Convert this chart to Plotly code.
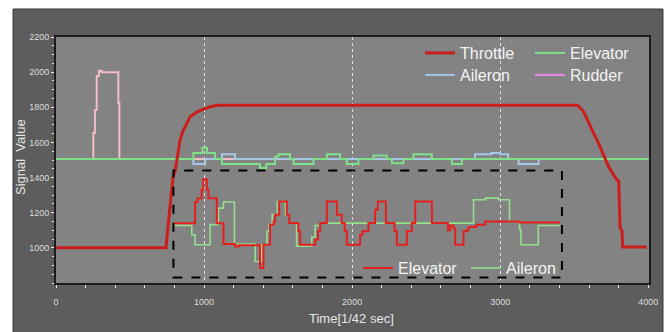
import plotly.graph_objects as go

# ---------------- data (time in 1/42 s, signal values) ----------------
throttle_t = [0, 743, 760, 775, 790, 805, 817, 830, 838, 855, 872, 890, 905, 930, 953, 985,
              1020, 1050, 1088, 3523, 3563, 3597, 3631, 3664, 3698, 3732, 3757, 3764, 3790,
              3800, 3810, 3822, 3828, 3990]
throttle_v = [1000, 1000, 1150, 1270, 1400, 1440, 1500, 1570, 1614, 1660, 1690, 1720, 1745,
              1760, 1774, 1785, 1796, 1805, 1812, 1812, 1776, 1719, 1653, 1596, 1530, 1463,
              1427, 1416, 1387, 1380, 1113, 1100, 1005, 1005]

elevator_t = [0, 928, 990, 1020, 1074, 1120, 1378, 1420, 1480, 1502, 1581, 1604, 1739, 1829,
              1919, 1964, 2043, 2144, 2234, 2268, 2347, 2414, 2538, 2673, 2741, 4000]
elevator_v = [1505, 1540, 1570, 1540, 1505, 1477, 1454, 1477, 1520, 1533, 1505, 1477, 1505,
              1533, 1505, 1477, 1505, 1526, 1505, 1482, 1505, 1533, 1505, 1477, 1505, 1505]

aileron_t = [0, 928, 1007, 1120, 1209, 2830, 2940, 3000, 3054, 3124, 3259, 4000]
aileron_v = [1505, 1477, 1505, 1533, 1505, 1533, 1540, 1533, 1505, 1477, 1505, 1505]

rudder_t = [0, 252, 263, 275, 290, 309, 421, 428, 4000]
rudder_v = [1505, 1654, 1785, 1978, 2008, 2000, 1825, 1505, 1505]

# inset (zoomed elevator / aileron), drawn in main axis units
inset_elev_t = [793, 939, 957, 984, 995, 1018, 1029, 1086, 1131, 1210, 1235, 1378, 1401, 1446,
                1470, 1480, 1507, 1559, 1575, 1637, 1649, 1750, 1770, 1784, 1829, 1897, 1930,
                1950, 1964, 2054, 2070, 2110, 2155, 2174, 2228, 2286, 2302, 2370, 2403, 2426,
                2539, 2647, 2662, 2685, 2696, 2752, 2775, 2786, 2831, 2842, 2899, 3130, 3405]
inset_elev_v = [1140, 1261, 1283, 1331, 1390, 1331, 1283, 1140, 1022, 1008, 1015, 886, 1018,
                1132, 1150, 1189, 1264, 1189, 1141, 1094, 1018, 1047, 1094, 1141, 1264, 1189,
                1141, 1094, 1018, 1075, 1094, 1141, 1217, 1264, 1141, 1094, 1018, 1094, 1141,
                1264, 1141, 1100, 1127, 1110, 1018, 1094, 1100, 1118, 1122, 1132, 1150, 1145,
                1145]

inset_ail_t = [793, 917, 939, 1041, 1097, 1131, 1205, 1345, 1390, 1425, 1440, 1460, 1495, 1550,
               1575, 1625, 1727, 1750, 1784, 2820, 2900, 2990, 3063, 3131, 3140, 3257, 3405]
inset_ail_v = [1128, 1075, 1018, 1132, 1226, 1261, 1022, 922, 1018, 1094, 1132, 1189, 1264,
               1189, 1141, 1010, 1060, 1127, 1141, 1274, 1283, 1274, 1150, 1104, 1018, 1127,
               1127]

inset_box_x = [793, 3417]
inset_box_y = [832, 1440]

x_ticks = [0, 1000, 2000, 3000, 4000]
y_ticks = [1000, 1200, 1400, 1600, 1800, 2000, 2200]

# ---------------- layout helpers ----------------
W, H = 669, 332
L, R, T, B = 56, 649, 37, 283
PW, PH = R - L, B - T


def px(x):
    return (x - L) / PW


def py(y):
    return (B - y) / PH


FONT = "Arial, Liberation Sans, sans-serif"

fig = go.Figure()

fig.add_trace(go.Scatter(x=rudder_t, y=rudder_v, mode="lines", line_shape="hv",
                         line=dict(color="#f4bcc6", width=2), showlegend=False, name="Rudder"))
fig.add_trace(go.Scatter(x=aileron_t, y=aileron_v, mode="lines", line_shape="hv",
                         line=dict(color="#a6c8e6", width=2), name="Aileron", legend="legend2",
                         legendrank=1))
fig.add_trace(go.Scatter(x=elevator_t, y=elevator_v, mode="lines", line_shape="hv",
                         line=dict(color="#7fe08a", width=2), name="Elevator", legend="legend",
                         legendrank=2))
fig.add_trace(go.Scatter(x=throttle_t, y=throttle_v, mode="lines",
                         line=dict(color="#cc1d1d", width=3), name="Throttle", legend="legend",
                         legendrank=1))
# legend swatch for rudder
fig.add_trace(go.Scatter(x=[None], y=[None], mode="lines",
                         line=dict(color="#e88ae6", width=2), name="Rudder", legend="legend2",
                         legendrank=2))

fig.add_trace(go.Scatter(x=inset_ail_t, y=inset_ail_v, mode="lines", line_shape="hv",
                         line=dict(color="#94e08f", width=1.6), name="Aileron", legend="legend3",
                         legendrank=2))
fig.add_trace(go.Scatter(x=inset_elev_t, y=inset_elev_v, mode="lines", line_shape="hv",
                         line=dict(color="#e4201e", width=2), name="Elevator", legend="legend3",
                         legendrank=1))

shapes = [
    # dark panel
    dict(type="rect", xref="paper", yref="paper", layer="below",
         x0=px(13), x1=px(663), y0=py(345), y1=py(9),
         fillcolor="#5d5d5d", line=dict(color="#3a3a3a", width=1)),
    # plot area
    dict(type="rect", xref="paper", yref="paper", layer="below",
         x0=0, x1=1, y0=0, y1=1, fillcolor="#838383", line=dict(width=0)),
    # inset dashed box
    dict(type="rect", xref="x", yref="y", layer="above",
         x0=inset_box_x[0], x1=inset_box_x[1], y0=inset_box_y[0], y1=inset_box_y[1],
         fillcolor="rgba(0,0,0,0)", line=dict(color="#000000", width=2, dash="dash")),
]

leg_common = dict(orientation="h", xanchor="left", yanchor="middle",
                  bgcolor="rgba(0,0,0,0)", borderwidth=0,
                  font=dict(family=FONT, size=16, color="#f4f4f4"),
                  itemwidth=30, traceorder="normal")

fig.update_layout(
    width=W, height=H,
    margin=dict(l=L, r=W - R, t=T, b=H - B),
    paper_bgcolor="white",
    plot_bgcolor="rgba(0,0,0,0)",
    shapes=shapes,
    legend=dict(x=px(420), y=py(53), entrywidth=65, **leg_common),
    legend2=dict(x=px(420), y=py(75), entrywidth=65, **leg_common),
    legend3=dict(x=px(358), y=py(268), entrywidth=63, **leg_common),
    xaxis=dict(range=[0, 4005], tickvals=x_ticks, ticktext=[str(v) for v in x_ticks],
               showline=True, linecolor="#1c1c1c", linewidth=2, mirror=True,
               ticks="outside", ticklen=3, tickcolor="#e8e8e8", tickwidth=1,
               minor=dict(dtick=200, tick0=0, ticks="outside", ticklen=3,
                          tickcolor="#e8e8e8", showgrid=False),
               showgrid=True, gridcolor="rgba(255,255,255,0.75)", griddash="dot",
               gridwidth=1, zeroline=False, ticklabelstandoff=6,
               tickfont=dict(family=FONT, size=9, color="#dcdcdc")),
    yaxis=dict(range=[800, 2200], tickvals=y_ticks, ticktext=[str(v) for v in y_ticks],
               showline=True, linecolor="#1c1c1c", linewidth=2, mirror=True,
               ticks="outside", ticklen=3, tickcolor="#e8e8e8", tickwidth=1,
               minor=dict(dtick=50, tick0=800, ticks="outside", ticklen=2,
                          tickcolor="#e8e8e8", showgrid=False),
               showgrid=False, zeroline=False,
               tickfont=dict(family=FONT, size=9, color="#dcdcdc")),
    annotations=[
        dict(text="Time[1/42 sec]", xref="paper", yref="paper", x=px(351), y=py(318),
             xanchor="center", yanchor="middle", showarrow=False,
             font=dict(family=FONT, size=13, color="#e6e6e6")),
        dict(text="Signal  Value", xref="paper", yref="paper", x=px(20), y=py(157),
             xanchor="center", yanchor="middle", showarrow=False, textangle=-90,
             font=dict(family=FONT, size=13, color="#e6e6e6")),
    ],
)

fig.write_html("out.html")
